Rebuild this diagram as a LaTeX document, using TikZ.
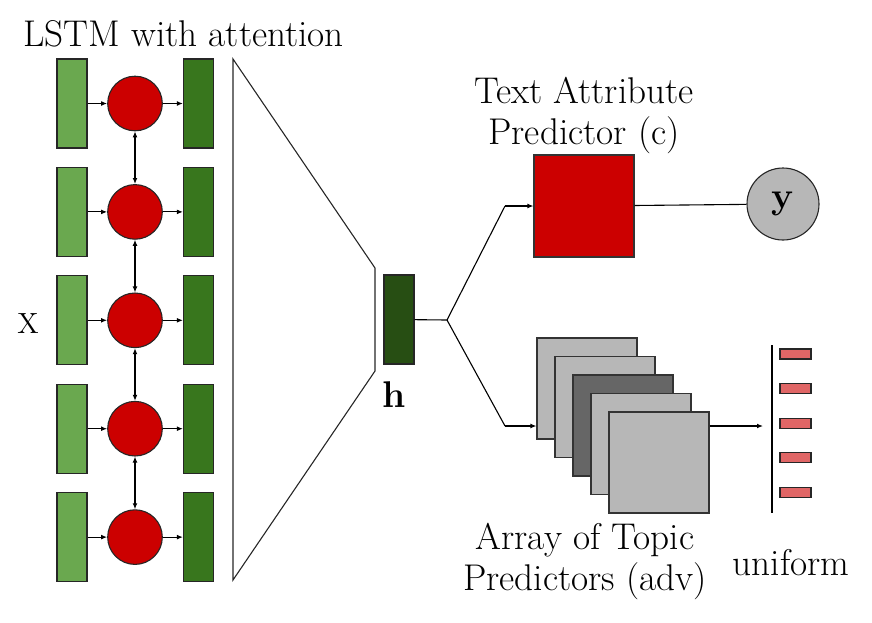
\documentclass[tikz,border=0pt]{standalone}
\usepackage{tikz}
\usetikzlibrary{positioning, arrows.meta, calc}
\definecolor{lgreen}{HTML}{6AA84F}
\definecolor{dgreen}{HTML}{38761D}
\definecolor{hgreen}{HTML}{274E13}
\definecolor{cellred}{HTML}{CC0000}
\definecolor{softred}{HTML}{E06666}
\definecolor{lgray}{HTML}{B7B7B7}
\definecolor{dgray}{HTML}{666666}

\tikzset{
  lbl/.style={font=\fontsize{18.6}{20.5}\selectfont},
  bar/.style={draw=black!85, rectangle, inner sep=0pt, minimum width=15pt, minimum height=44.5pt},
  cell/.style={draw=black!85, circle, fill=cellred, inner sep=0pt, minimum size=27.3pt},
  box/.style={draw=black!80, rectangle, inner sep=0pt, minimum width=50pt, minimum height=50.5pt},
  ubar/.style={draw=black!85, fill=softred, inner sep=0pt, minimum width=15.5pt, minimum height=5pt}
}

\begin{document}
\begin{tikzpicture}[x=0.5pt, y=-0.5pt, line width=0.55pt, >={Latex[length=3pt, width=2.4pt]}]
    \useasboundingbox (0,0) rectangle (872,622);

    % lstm cells
    \foreach \i in {1,...,5}{
        \pgfmathsetmacro{\ry}{103.5+(\i-1)*108.4}
        \node[bar, fill=lgreen] (in\i) at (72,\ry) {};
        \node[cell] (cell\i) at (135,\ry) {};
        \node[bar, fill=dgreen] (out\i) at (198.5,\ry) {};
        \draw[->] (in\i) -- (cell\i);
        \draw[->] (cell\i) -- (out\i);
    }
    \foreach \i [count=\j from 2] in {1,...,4}
        \draw[<->] (cell\i) -- (cell\j);

    \node[lbl, anchor=base] (lstmlabel) at (183.5,46.7) {LSTM with attention};
    \node[font=\fontsize{14.6}{17}\selectfont, anchor=base] (xlabel) at (28,333) {X};

    % attention funnel
    \draw[black!85] (233,59) -- (375,268) -- (375,371) -- (233,580) -- cycle;

    \node[bar, fill=hgreen] (h) at (399,319.5) {};
    \node[lbl, anchor=base] (hlabel) at (394,407) {\textbf{h}};

    \coordinate (split) at (447,320);
    \coordinate (upbend) at (505,206);
    \coordinate (lowbend) at (505,426);

    % text attribute predictor
    \node[box, fill=cellred, minimum height=51pt] (attr) at (584,206) {};
    \node[lbl, align=center, inner sep=0pt, above=0pt of attr] (attrlabel) {Text Attribute\\Predictor (c)};
    \node[lbl, draw=black!85, circle, fill=lgray, minimum size=36pt, inner sep=0pt] (y) at (783,204) {\textbf{y}};

    \draw (h) -- (split) -- (upbend);
    \draw[->] (upbend) -- (attr.west);
    \draw (attr) -- (y);

    % topic predictors
    \foreach \k/\c in {0/lgray,1/lgray,2/dgray,3/lgray,4/lgray}
        \node[box, fill=\c] (topic\k) at ({587+18*\k},{388.5+18.5*\k}) {};

    \draw (split) -- (lowbend);
    \draw[->] (lowbend) -- (lowbend -| topic0.west);

    \node[lbl, align=center] (topiclabel) at (585,561.5) {Array of Topic\\Predictors (adv)};

    % uniform output
    \coordinate (utop) at (772,345);
    \coordinate (ubot) at (772,513);
    \coordinate (uin) at (763,426);
    \draw (utop) -- (ubot);
    \draw[->] (uin -| topic4.east) -- (uin);
    \foreach \i in {0,...,4}
        \node[ubar] (u\i) at (795.5,{354+34.6*\i}) {};

    \node[lbl, anchor=base] (unilabel) at (791,575) {uniform};
\end{tikzpicture}
\end{document}
